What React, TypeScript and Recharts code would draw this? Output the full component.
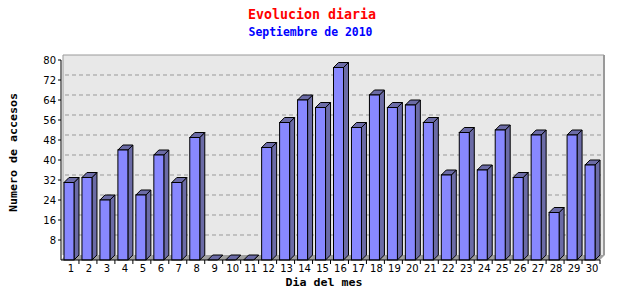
import React from 'react';
import { BarChart, Bar, XAxis, YAxis, ReferenceArea } from 'recharts';

const days = Array.from({ length: 30 }, (_, i) => String(i + 1));
const accesos = [31, 33, 24, 44, 26, 42, 31, 49, 0, 0, 0, 45, 55, 64, 61, 77, 53, 66, 61, 62, 55, 34, 51, 36, 52, 33, 50, 19, 50, 38];
const yTicks = [8, 16, 24, 32, 40, 48, 56, 64, 72, 80];
const gridTicks = [8, 16, 24, 32, 40, 48, 56, 64, 72];
const Y_MAX = 80;

const data = days.map((d, i) => ({ dia: d, accesos: accesos[i] }));

const W = 640;
const H = 300;
const DEPTH = 5;
const FRONT = '#8888ff';
const SIDE = '#6b6ba6';
const BAND = (600 - 61) / days.length;

const Bar3D = (props: any) => {
  const { x, y, width, height } = props;
  const bx = x - 1;
  const d = DEPTH;
  return (
    <g stroke="#000" strokeWidth={1}>
      <polygon
        points={`${bx + width},${y} ${bx + width + d},${y - d} ${bx + width + d},${y + height - d} ${bx + width},${y + height}`}
        fill={SIDE}
      />
      <polygon
        points={`${bx},${y} ${bx + d},${y - d} ${bx + width + d},${y - d} ${bx + width},${y}`}
        fill={SIDE}
      />
      {height > 0 && <rect x={bx} y={y} width={width} height={height} fill={FRONT} />}
    </g>
  );
};

// back wall: plot area pushed back by the 3D depth, with dashed grid
const BackPlane = (props: any) => {
  const { x, y, width, height } = props;
  const x0 = x + 2;
  const x1 = x + width + 4;
  const y0 = y - DEPTH;
  const y1 = y + height - DEPTH;
  return (
    <g>
      <rect x={x0} y={y0} width={x1 - x0} height={y1 - y0} fill="#e8e8e8" stroke="none" />
      {gridTicks.map((v) => {
        const gy = y1 - (v / Y_MAX) * (y1 - y0);
        return <line key={v} x1={x0 + 2} y1={gy} x2={x1} y2={gy} stroke="#999" strokeDasharray="4 3" />;
      })}
      <path d={`M${x0},${y1} L${x0},${y0} L${x1},${y0}`} fill="none" stroke="#999" />
      <line x1={x1} y1={y0} x2={x1} y2={y1} stroke="#999" strokeWidth={2} />
    </g>
  );
};

const Floor = (props: any) => {
  const { x, y, width, height } = props;
  const d = DEPTH;
  return (
    <polygon
      points={`${x},${y + height} ${x + width},${y + height} ${x + width + d},${y} ${x + d},${y}`}
      fill="#a0a0a0"
      stroke="none"
    />
  );
};

const DayTick = (props: any) => {
  const { x, y, payload } = props;
  const axisY = y - 5;
  return (
    <g>
      <line x1={x + BAND / 2} y1={axisY} x2={x + BAND / 2} y2={axisY + 4} stroke="#000" />
      <text x={x + 1} y={y} dy="0.71em" textAnchor="middle" fontSize={10} fontFamily="DejaVu Sans" fill="#000">
        {payload.value}
      </text>
    </g>
  );
};

const layer: React.CSSProperties = { position: 'absolute', left: 0, top: 0 };

export default function App() {
  return (
    <div style={{ position: 'absolute', left: 0, top: 0, width: W, height: H, background: '#fff' }}>
      <div style={layer}>
        <BarChart width={W} height={H} data={data} margin={{ top: 60, right: 40, bottom: 0, left: 0 }} barSize={10}>
          <ReferenceArea y1={0} y2={Y_MAX} shape={<BackPlane />} />
          <ReferenceArea y1={0} y2={2} shape={<Floor />} />
          <XAxis
            dataKey="dia"
            height={40}
            stroke="#000"
            tickLine={false}
            tickSize={3}
            tickMargin={2}
            interval={0}
            tick={<DayTick />}
          />
          <YAxis
            width={61}
            domain={[0, Y_MAX]}
            ticks={yTicks}
            stroke="#000"
            tickSize={3}
            tickMargin={2}
            tick={{ fontSize: 10, fontFamily: 'DejaVu Sans', fill: '#000' }}
          />
          <Bar dataKey="accesos" shape={<Bar3D />} isAnimationActive={false} />
        </BarChart>
      </div>
      <svg style={layer} width={W} height={H}>
        <text x={312} y={19} textAnchor="middle" fontFamily="DejaVu Sans Mono" fontWeight="bold" fontSize={14} fill="#ff0000" textLength={128} lengthAdjust="spacingAndGlyphs">
          Evolucion diaria
        </text>
        <text x={310.5} y={36} textAnchor="middle" fontFamily="DejaVu Sans Mono" fontWeight="bold" fontSize={12} fill="#0000ff" textLength={124} lengthAdjust="spacingAndGlyphs">
          Septiembre de 2010
        </text>
        <text x={0} y={0} transform="translate(16.5,152.5) rotate(-90)" textAnchor="middle" fontFamily="DejaVu Sans Mono" fontWeight="bold" fontSize={11} fill="#000" textLength={119} lengthAdjust="spacingAndGlyphs">
          Numero de accesos
        </text>
        <text x={324} y={286} textAnchor="middle" fontFamily="DejaVu Sans Mono" fontWeight="bold" fontSize={11} fill="#000" textLength={77} lengthAdjust="spacingAndGlyphs">
          Dia del mes
        </text>
      </svg>
    </div>
  );
}
